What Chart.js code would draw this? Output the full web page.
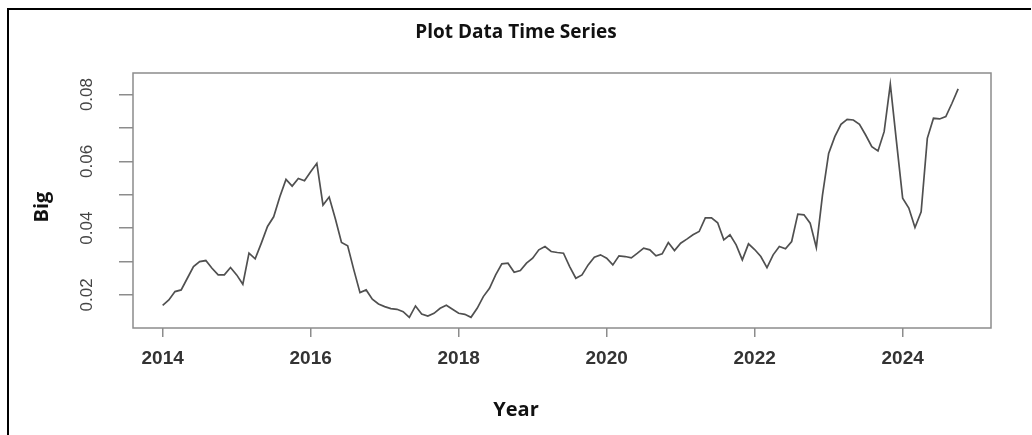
<!DOCTYPE html>
<html>
<head>
<meta charset="utf-8">
<title>Plot Data Time Series</title>
<script src="https://cdn.jsdelivr.net/npm/chart.js@4.4.1/dist/chart.umd.min.js"></script>
<style>
  html, body { margin: 0; padding: 0; background: #fff; }
  #wrap { position: relative; width: 1032px; height: 435px; }
</style>
</head>
<body>
<div id="wrap"><canvas id="chart" width="1032" height="435"></canvas></div>
<script>
// monthly series, ts(start = 2014, frequency = 12)
const startYear = 2014;
const frequency = 12;
const big = [
  0.0169, 0.0185, 0.0210, 0.0215, 0.0250, 0.0285, 0.0300, 0.0303, 0.0280, 0.0260, 0.0260, 0.0282,
  0.0260, 0.0232, 0.0325, 0.0308, 0.0355, 0.0405, 0.0434, 0.0494, 0.0546, 0.0526, 0.0549, 0.0542,
  0.0569, 0.0594, 0.0469, 0.0493, 0.0428, 0.0357, 0.0347, 0.0275, 0.0207, 0.0215, 0.0187, 0.0173,
  0.0165, 0.0159, 0.0157, 0.0150, 0.0133, 0.0167, 0.0143, 0.0137, 0.0145, 0.0160, 0.0169, 0.0157,
  0.0145, 0.0142, 0.0133, 0.0160, 0.0195, 0.0220, 0.0260, 0.0293, 0.0295, 0.0268, 0.0273, 0.0295,
  0.0310, 0.0335, 0.0345, 0.0330, 0.0327, 0.0325, 0.0285, 0.0250, 0.0260, 0.0290, 0.0313, 0.0320,
  0.0310, 0.0290, 0.0317, 0.0315, 0.0311, 0.0325, 0.0340, 0.0335, 0.0317, 0.0323, 0.0357, 0.0333,
  0.0355, 0.0367, 0.0380, 0.0390, 0.0431, 0.0431, 0.0416, 0.0365, 0.0380, 0.0350, 0.0305, 0.0353,
  0.0336, 0.0315, 0.0282, 0.0320, 0.0345, 0.0338, 0.0360, 0.0442, 0.0440, 0.0415, 0.0342, 0.0499,
  0.0624, 0.0674, 0.0711, 0.0726, 0.0724, 0.0711, 0.0679, 0.0644, 0.0631, 0.0689, 0.0831, 0.0659,
  0.0490, 0.0460, 0.0402, 0.0449, 0.0669, 0.0729, 0.0727, 0.0734, 0.0774, 0.0817
];
const xTicks = [2014, 2016, 2018, 2020, 2022, 2024];
const xTickLabels = ['2014', '2016', '2018', '2020', '2022', '2024'];
const yTicks = [0.02, 0.03, 0.04, 0.05, 0.06, 0.07, 0.08];
const yTickLabels = ['0.02', '', '0.04', '', '0.06', '', '0.08'];

const points = big.map((v, i) => ({ x: startYear + i / frequency, y: v }));

const axisGray = '#8c8c8c';

const decor = {
  id: 'decor',
  afterDraw(chart) {
    const { ctx, chartArea: a } = chart;
    ctx.save();
    // plot box
    ctx.strokeStyle = axisGray;
    ctx.lineWidth = 1.5;
    ctx.strokeRect(a.left, a.top, a.right - a.left, a.bottom - a.top);
    // outer frame of the screenshot
    ctx.strokeStyle = '#000';
    ctx.lineWidth = 2;
    ctx.beginPath();
    ctx.moveTo(1031, 9);
    ctx.lineTo(8, 9);
    ctx.lineTo(8, 435);
    ctx.stroke();
    // texts
    ctx.fillStyle = '#111';
    ctx.textAlign = 'center';
    ctx.textBaseline = 'middle';
    ctx.font = 'bold 19px "Open Sans"';
    ctx.fillText('Plot Data Time Series', 516, 33);
    ctx.font = 'bold 20px "Open Sans"';
    ctx.fillText('Year', 516, 410);
    ctx.translate(42, 207);
    ctx.rotate(-Math.PI / 2);
    ctx.fillText('Big', 0, 0);
    ctx.restore();
  }
};

new Chart(document.getElementById('chart'), {
  type: 'line',
  data: {
    datasets: [{
      label: 'Big',
      data: points,
      borderColor: '#505050',
      borderWidth: 1.7,
      pointRadius: 0,
      tension: 0,
      fill: false
    }]
  },
  options: {
    responsive: false,
    animation: false,
    layout: { padding: { top: 73, right: 41, bottom: 0, left: 0 } },
    plugins: { legend: { display: false }, tooltip: { enabled: false }, title: { display: false } },
    scales: {
      x: {
        type: 'linear',
        min: 2013.599,
        max: 2025.194,
        afterBuildTicks: s => { s.ticks = xTicks.map(v => ({ value: v })); },
        afterFit: s => { s.height = 107; },
        border: { display: false },
        grid: { drawOnChartArea: false, tickLength: 9, color: axisGray, lineWidth: 1.5 },
        ticks: {
          autoSkip: false,
          maxRotation: 0,
          padding: 10,
          color: '#333',
          font: { family: 'Liberation Sans', weight: 'bold', size: 19 },
          callback: (v, i) => xTickLabels[i]
        }
      },
      y: {
        min: 0.0101,
        max: 0.08646,
        afterBuildTicks: s => { s.ticks = yTicks.map(v => ({ value: v })); },
        afterFit: s => { s.width = 133; },
        border: { display: false },
        grid: { drawOnChartArea: false, tickLength: 14, color: axisGray, lineWidth: 1.5 },
        ticks: {
          minRotation: 90,
          maxRotation: 90,
          crossAlign: 'center',
          padding: 15,
          color: '#444',
          font: { family: 'Liberation Sans', size: 17 },
          callback: (v, i) => yTickLabels[i]
        }
      }
    }
  },
  plugins: [decor]
});
</script>
</body>
</html>
